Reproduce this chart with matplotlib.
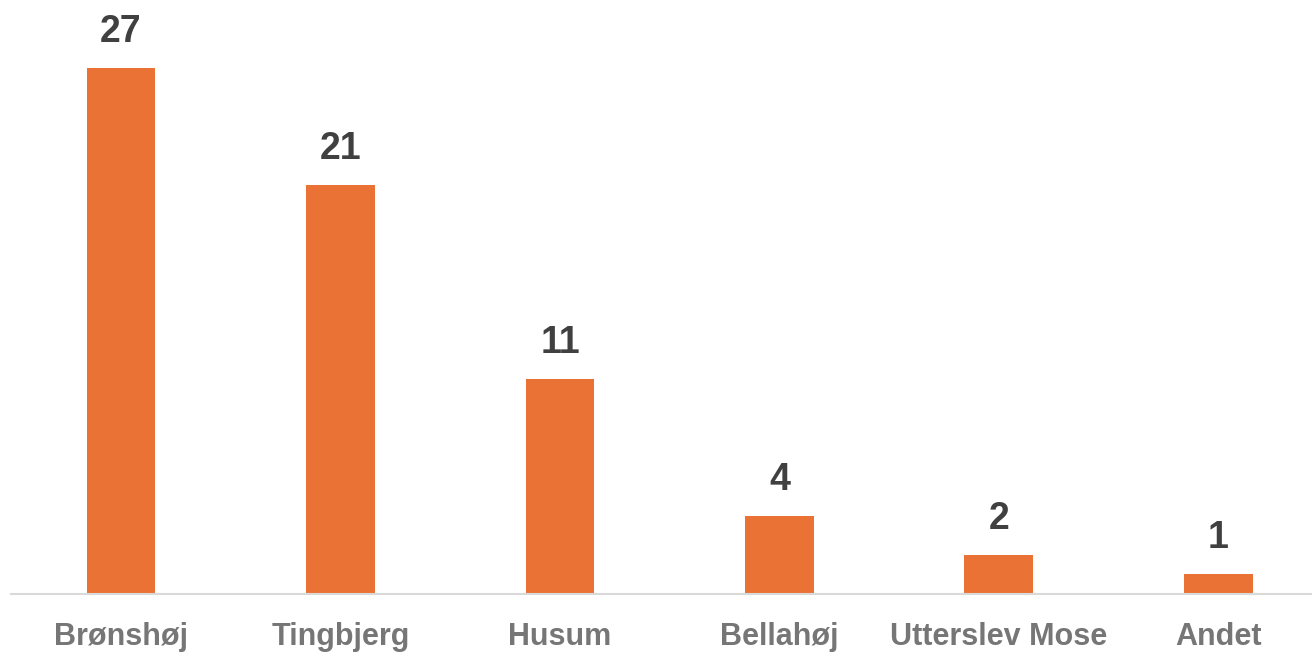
import matplotlib.pyplot as plt
import numpy as np

# area names and counts
areas = ["Brønshøj", "Tingbjerg", "Husum", "Bellahøj", "Utterslev Mose", "Andet"]
counts = [27, 21, 11, 4, 2, 1]

BAR_COLOR = "#EA7234"
VALUE_COLOR = "#404040"
LABEL_COLOR = "#767676"

plt.rcParams["font.family"] = ["Liberation Sans", "DejaVu Sans"]

fig = plt.figure(figsize=(13.12, 6.54), dpi=100)
# axes runs a little past the right edge, like the original slide crop
ax = fig.add_axes([11.3 / 1312, 60.5 / 654, 1316.8 / 1312, 593.5 / 654])

x = np.arange(len(areas))
bars = ax.bar(x, counts, width=0.314, color=BAR_COLOR, zorder=2)

ax.set_xlim(-0.5, len(areas) - 0.5)
ax.set_ylim(0, 30.5)

# value labels above each bar
for rect, val in zip(bars, counts):
    ax.annotate(str(val),
                xy=(rect.get_x() + rect.get_width() / 2, rect.get_height()),
                xytext=(0, 18.7), textcoords="offset points",
                ha="center", va="baseline",
                fontsize=27, fontweight="bold", color=VALUE_COLOR)

ax.set_xticks(x)
ax.set_xticklabels(areas, fontsize=22, fontweight="bold", color=LABEL_COLOR)
ax.tick_params(axis="x", length=0, pad=20.5)
ax.set_yticks([])

for side in ["top", "right", "left"]:
    ax.spines[side].set_visible(False)
ax.spines["bottom"].set_color("#D9D9D9")
ax.spines["bottom"].set_linewidth(1.5)
ax.spines["bottom"].set_zorder(3)

fig.savefig("out.png", dpi=100)
